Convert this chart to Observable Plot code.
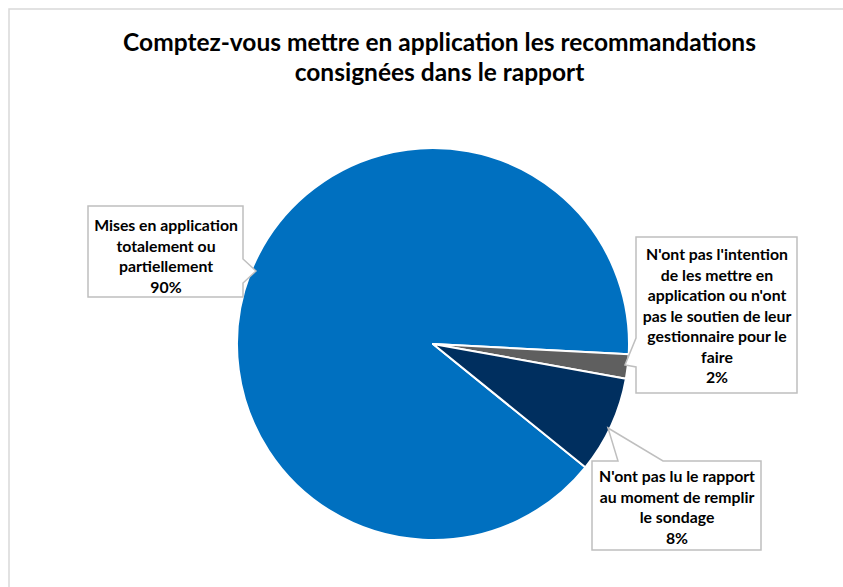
<!DOCTYPE html>
<html>
<head>
<meta charset="utf-8">
<script src="https://cdn.jsdelivr.net/npm/d3@7"></script>
<script src="https://cdn.jsdelivr.net/npm/@observablehq/plot@0.6"></script>
<style>
  html, body { margin: 0; padding: 0; background: #fff; }
  #chart svg { display: block; }
</style>
</head>
<body>
<div id="chart"></div>
<script>
// ---- Data ----
const title = "Comptez-vous mettre en application les recommandations\nconsignées dans le rapport";
const categories = [
  "Mises en application totalement ou partiellement",
  "N'ont pas l'intention de les mettre en application ou n'ont pas le soutien de leur gestionnaire pour le faire",
  "N'ont pas lu le rapport au moment de remplir le sondage"
];
const values = [90, 2, 8];
const labelLines = [
  ["Mises en application", "totalement ou", "partiellement"],
  ["N'ont pas l'intention", "de les mettre en", "application ou n'ont", "pas le soutien de leur", "gestionnaire pour le", "faire"],
  ["N'ont pas lu le rapport", "au moment de remplir", "le sondage"]
];

// ---- Styles / layout ----
const colors = ["#0070C0", "#5F5F5F", "#002F5F"];
const W = 843, H = 587;
const pie = {cx: 433, cy: 344, r: 196, startDeg: 129};
const fontFamily = "Lato, 'Open Sans', sans-serif";
const labelFont = 15.8;
const lineGap = 20.5;
const labelPos = [ {x: 165.5, y: 254.75}, {x: 716.5, y: 314.5}, {x: 676.5, y: 506} ];
const callouts = [
  [[88,206],[243,206],[243,259],[256,271],[243,283],[243,297],[88,297]],
  [[636,237],[797,237],[797,393],[636,393],[636,367],[625,365],[636,338]],
  [[592,461],[618,461],[608,428],[663,461],[761,461],[761,550],[592,550]]
];

const table = categories.map((c, i) => ({
  category: c,
  value: values[i],
  color: colors[i],
  label: labelLines[i].join("\n") + "\n" + values[i] + "%",
  lx: labelPos[i].x,
  ly: labelPos[i].y
}));

function getScales(args) {
  return args.find(a => a && typeof a === "object" && typeof a.x === "function" && typeof a.y === "function");
}

// Frame border
function frameMark(...args) {
  const s = getScales(args);
  const g = d3.create("svg:g");
  g.append("rect")
    .attr("x", s.x(9)).attr("y", s.y(9))
    .attr("width", s.x(W + 20) - s.x(9)).attr("height", s.y(H + 20) - s.y(9))
    .attr("fill", "none").attr("stroke", "#d9d9d9").attr("stroke-width", 1.5);
  return g.node();
}

// Pie slices through d3.pie / d3.arc with Plot scales
function pieMark(...args) {
  const s = getScales(args);
  const a0 = pie.startDeg * Math.PI / 180;
  const arcs = d3.pie().sort(null).value(d => d.value).startAngle(a0).endAngle(a0 + 2 * Math.PI)(table);
  const r = s.x(pie.cx + pie.r) - s.x(pie.cx);
  const arc = d3.arc().innerRadius(0).outerRadius(r);
  const g = d3.create("svg:g").attr("transform", `translate(${s.x(pie.cx)},${s.y(pie.cy)})`);
  g.selectAll("path").data(arcs).join("path")
    .attr("d", arc)
    .attr("fill", d => d.data.color)
    .attr("stroke", "#fff")
    .attr("stroke-width", 2)
    .attr("stroke-linejoin", "round");
  return g.node();
}

// Callout boxes
function calloutMark(...args) {
  const s = getScales(args);
  const g = d3.create("svg:g");
  const line = d3.line().x(p => s.x(p[0])).y(p => s.y(p[1]));
  g.selectAll("path").data(callouts).join("path")
    .attr("d", d => line(d) + "Z")
    .attr("fill", "#fff")
    .attr("stroke", "#bfbfbf")
    .attr("stroke-width", 1.5)
    .attr("stroke-linejoin", "miter");
  return g.node();
}

const chart = Plot.plot({
  width: W,
  height: H,
  margin: 0,
  style: {background: "#fff", overflow: "visible"},
  x: {domain: [0, W], range: [0, W], axis: null},
  y: {domain: [0, H], range: [0, H], axis: null},
  marks: [
    frameMark,
    pieMark,
    calloutMark,
    Plot.text(table, {
      x: "lx", y: "ly", text: "label",
      fontFamily, fontSize: labelFont, fontWeight: "bold",
      lineHeight: lineGap / labelFont, lineAnchor: "middle",
      textAnchor: "middle", fill: "#000"
    }),
    Plot.text([title], {
      x: () => 439, y: () => 56, text: d => d,
      fontFamily, fontSize: 24.5, fontWeight: "bold",
      lineHeight: 30 / 24.5, lineAnchor: "middle",
      textAnchor: "middle", fill: "#000"
    })
  ]
});
document.getElementById("chart").appendChild(chart);
</script>
</body>
</html>
